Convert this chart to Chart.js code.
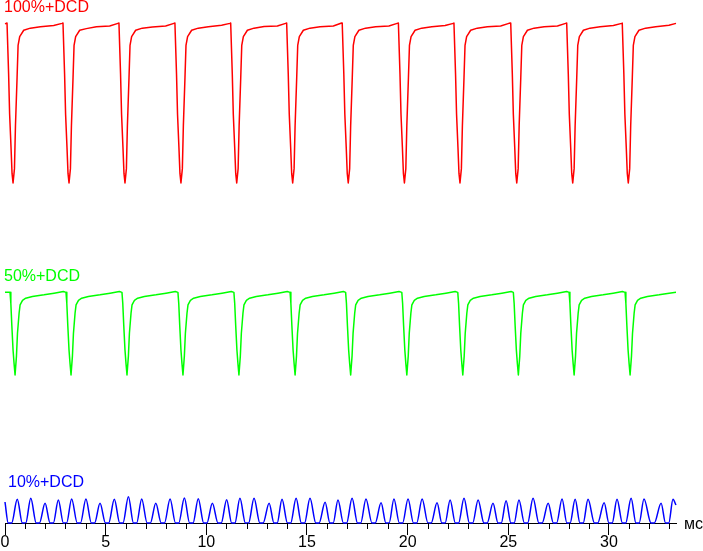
<!DOCTYPE html>
<html>
<head>
<meta charset="utf-8">
<script src="https://cdn.jsdelivr.net/npm/chart.js@4/dist/chart.umd.min.js"></script>
<style>
	body { margin: 0; background: #fff; }
	#chart-box { width: 703px; height: 551px; position: relative; }
</style>
</head>
<body>
<div id="chart-box"><canvas id="wave-chart-canvas"></canvas></div>
<script>
// time in ms, level in % of each trace's own swing
var seriesNames = ["100%+DCD", "50%+DCD", "10%+DCD"];
var seriesColors = ["#ff0000", "#00ff00", "#0000ff"];
var axisUnit = "мс";
var tickMajorStep = 5;
var timeMax = 33.33;

var redTrace = [
	[0,99.5],[0.10,100],[0.18,68],[0.23,43],[0.30,22],[0.35,6],[0.40,0],[0.47,9],[0.52,36],[0.60,66],[0.65,86],[0.73,91.5],[0.93,95.5],[1.26,96.8],[1.76,97.7],[2.42,98.4],[2.83,99.8],
	[2.88,100],[2.96,68],[3.01,43],[3.08,22],[3.13,6],[3.18,0],[3.25,9],[3.30,36],[3.38,66],[3.43,86],[3.51,91.5],[3.71,95.5],[4.04,96.5],[4.54,97.7],[5.20,98.2],[5.61,99.8],
	[5.66,100],[5.74,68],[5.79,43],[5.86,22],[5.91,6],[5.96,0],[6.03,9],[6.08,36],[6.16,66],[6.21,86],[6.29,91.5],[6.49,95.5],[6.82,96.8],[7.32,97.5],[7.98,98.2],[8.39,99.8],
	[8.44,100],[8.52,68],[8.57,43],[8.64,22],[8.69,6],[8.74,0],[8.81,9],[8.86,36],[8.94,66],[8.99,86],[9.07,91.5],[9.27,95.5],[9.60,96.8],[10.10,97.7],[10.76,98.6],[11.17,99.8],
	[11.21,100],[11.29,68],[11.34,43],[11.41,22],[11.46,6],[11.51,0],[11.58,9],[11.63,36],[11.71,66],[11.76,86],[11.84,91.5],[12.04,95.5],[12.37,96.8],[12.87,97.9],[13.53,98.2],[13.94,99.8],
	[13.99,100],[14.07,68],[14.12,43],[14.19,22],[14.24,6],[14.29,0],[14.36,9],[14.41,36],[14.49,66],[14.54,86],[14.62,91.5],[14.82,95.5],[15.15,96.8],[15.65,97.7],[16.31,98.2],[16.72,100],
	[16.75,100],[16.83,68],[16.88,43],[16.95,22],[17.00,6],[17.05,0],[17.12,9],[17.17,36],[17.25,66],[17.30,86],[17.38,91.5],[17.58,95.5],[17.91,96.8],[18.41,97.7],[19.07,98.2],[19.48,99.8],
	[19.54,100],[19.62,68],[19.67,43],[19.74,22],[19.79,6],[19.84,0],[19.91,9],[19.96,36],[20.04,66],[20.09,86],[20.17,91.5],[20.37,95.5],[20.70,96.8],[21.20,97.7],[21.86,98.4],[22.27,99.8],
	[22.30,100],[22.38,68],[22.43,43],[22.50,22],[22.55,6],[22.60,0],[22.67,9],[22.72,36],[22.80,66],[22.85,86],[22.93,91.5],[23.13,95.5],[23.46,96.8],[23.96,97.7],[24.62,98.2],[25.03,99.8],
	[25.12,100],[25.20,68],[25.25,43],[25.32,22],[25.37,6],[25.42,0],[25.49,9],[25.54,36],[25.62,66],[25.67,86],[25.75,91.5],[25.95,95.5],[26.28,96.8],[26.78,97.7],[27.44,98.2],[27.85,99.8],
	[27.90,100],[27.98,68],[28.03,43],[28.10,22],[28.15,6],[28.20,0],[28.27,9],[28.32,36],[28.40,66],[28.45,86],[28.53,91.5],[28.73,95.5],[29.06,96.8],[29.56,97.7],[30.22,98.4],[30.63,99.8],
	[30.66,100],[30.74,68],[30.79,43],[30.86,22],[30.91,6],[30.96,0],[31.03,9],[31.08,36],[31.16,66],[31.21,86],[31.29,91.5],[31.49,95.5],[31.82,96.8],[32.32,97.7],[32.98,98.6],[33.33,99.8]
];

var greenTrace = [
	[0,99],[0.25,99],[0.29,86],[0.34,59],[0.40,30],[0.45,14],[0.50,0],[0.57,23],[0.62,50],[0.70,74],[0.75,84],[0.87,89.5],[1.03,92],[1.36,94],[1.94,96],[2.44,98],[2.90,100],
	[3.03,99],[3.07,86],[3.12,59],[3.18,30],[3.23,14],[3.28,0],[3.35,23],[3.40,50],[3.48,74],[3.53,84],[3.65,89.5],[3.81,92],[4.14,94],[4.72,96],[5.22,98],[5.68,100],
	[5.81,99],[5.85,86],[5.90,59],[5.96,30],[6.01,14],[6.06,0],[6.13,23],[6.18,50],[6.26,74],[6.31,84],[6.43,89.5],[6.59,92],[6.92,94],[7.50,96],[8.00,98],[8.46,100],
	[8.59,99],[8.63,86],[8.68,59],[8.74,30],[8.79,14],[8.84,0],[8.91,23],[8.96,50],[9.04,74],[9.09,84],[9.21,89.5],[9.37,92],[9.70,94],[10.28,96],[10.78,98],[11.24,100],
	[11.37,99],[11.41,86],[11.46,59],[11.52,30],[11.57,14],[11.62,0],[11.69,23],[11.74,50],[11.82,74],[11.87,84],[11.99,89.5],[12.15,92],[12.48,94],[13.06,96],[13.56,98],[14.02,100],
	[14.16,99],[14.20,86],[14.25,59],[14.31,30],[14.36,14],[14.41,0],[14.48,23],[14.53,50],[14.61,74],[14.66,84],[14.78,89.5],[14.94,92],[15.27,94],[15.85,96],[16.35,98],[16.81,100],
	[16.92,99],[16.96,86],[17.01,59],[17.07,30],[17.12,14],[17.17,0],[17.24,23],[17.29,50],[17.37,74],[17.42,84],[17.54,89.5],[17.70,92],[18.03,94],[18.61,96],[19.11,98],[19.57,100],
	[19.71,99],[19.75,86],[19.80,59],[19.86,30],[19.91,14],[19.96,0],[20.03,23],[20.08,50],[20.16,74],[20.21,84],[20.33,89.5],[20.49,92],[20.82,94],[21.40,96],[21.90,98],[22.36,100],
	[22.49,99],[22.53,86],[22.58,59],[22.64,30],[22.69,14],[22.74,0],[22.81,23],[22.86,50],[22.94,74],[22.99,84],[23.11,89.5],[23.27,92],[23.60,94],[24.18,96],[24.68,98],[25.14,100],
	[25.25,99],[25.29,86],[25.34,59],[25.40,30],[25.45,14],[25.50,0],[25.57,23],[25.62,50],[25.70,74],[25.75,84],[25.87,89.5],[26.03,92],[26.36,94],[26.94,96],[27.44,98],[27.90,100],
	[28.02,99],[28.06,86],[28.11,59],[28.17,30],[28.22,14],[28.27,0],[28.34,23],[28.39,50],[28.47,74],[28.52,84],[28.64,89.5],[28.80,92],[29.13,94],[29.71,96],[30.21,98],[30.67,100],
	[30.80,99],[30.84,86],[30.89,59],[30.95,30],[31.00,14],[31.05,0],[31.12,23],[31.17,50],[31.25,74],[31.30,84],[31.42,89.5],[31.58,92],[31.91,94],[32.49,96],[32.99,98],[33.33,99]
];

var blueTrace = [
	[0,84],[0.16,0],[0.33,0],[0.61,95],[0.86,0],[1.03,0],[1.28,99],[1.55,0],[1.71,0],[1.99,79],[2.24,0],[2.40,0],
	[2.65,92],[2.90,0],[3.06,0],[3.31,96],[3.59,0],[3.75,0],[4.02,96],[4.29,0],[4.45,0],[4.72,79],[4.99,0],[5.15,0],
	[5.43,95],[5.70,0],[5.86,0],[6.13,105],[6.38,0],[6.54,0],[6.79,96],[7.06,0],[7.22,0],[7.49,79],[7.76,0],[7.92,0],
	[8.20,96],[8.47,0],[8.63,0],[8.91,100],[9.17,0],[9.34,0],[9.60,97],[9.87,0],[10.03,0],[10.30,79],[10.58,0],[10.74,0],
	[11.01,93],[11.26,0],[11.42,0],[11.67,99],[11.94,0],[12.10,0],[12.37,99],[12.66,0],[12.82,0],[13.12,79],[13.36,0],[13.52,0],
	[13.76,95],[14.03,0],[14.19,0],[14.46,99],[14.72,0],[14.88,0],[15.15,99],[15.44,0],[15.60,0],[15.90,83],[16.14,0],[16.30,0],
	[16.54,92],[16.81,0],[16.97,0],[17.24,99],[17.51,0],[17.67,0],[17.93,96],[18.23,0],[18.39,0],[18.68,81],[18.92,0],[19.08,0],
	[19.32,96],[19.59,0],[19.75,0],[20.02,96],[20.29,0],[20.45,0],[20.72,96],[21.01,0],[21.17,0],[21.46,81],[21.70,0],[21.86,0],
	[22.11,92],[22.37,0],[22.53,0],[22.80,99],[23.07,0],[23.23,0],[23.50,92],[23.79,0],[23.95,0],[24.24,79],[24.49,0],[24.65,0],
	[24.89,89],[25.13,0],[25.29,0],[25.53,92],[25.80,0],[25.96,0],[26.23,99],[26.52,0],[26.68,0],[26.98,79],[27.24,0],[27.40,0],
	[27.67,96],[27.91,0],[28.07,0],[28.32,95],[28.56,0],[28.72,0],[28.96,95],[29.28,0],[29.44,0],[29.76,81],[30.00,0],[30.16,0],
	[30.40,95],[30.67,0],[30.83,0],[31.10,99],[31.34,0],[31.50,0],[31.74,96],[32.09,0],[32.25,0],[32.59,79],[32.81,0],[32.97,0],
	[33.18,95],[33.33,72]
];

function toPoints(trace) {
	var points = [];
	for(var i = 0; i < trace.length; i++)
		points.push({x: trace[i][0], y: trace[i][1]});
	return points;
}

// minor ticks every 1 ms, trace names, unit label
var waveDecorPlugin = {
	id: "waveDecor",
	afterDraw: function(chart) {
		var ctx = chart.ctx;
		var xScale = chart.scales.x;
		var baseY = xScale.top;
		var labelSpots = [[4, 12], [4, 281], [8, 487]];

		ctx.save();
		ctx.strokeStyle = "#000";
		ctx.lineWidth = 1;
		ctx.beginPath();
		for(var t = 1; t <= Math.floor(timeMax); t++) {
			if(t % tickMajorStep === 0)
				continue;
			var px = Math.round(xScale.getPixelForValue(t)) + 0.5;
			ctx.moveTo(px, baseY);
			ctx.lineTo(px, baseY + 6);
		}
		ctx.stroke();

		ctx.font = "16px 'Liberation Sans', Arial, sans-serif";
		ctx.textBaseline = "alphabetic";
		ctx.textAlign = "left";
		for(var s = 0; s < seriesNames.length; s++) {
			ctx.fillStyle = seriesColors[s];
			ctx.fillText(seriesNames[s], labelSpots[s][0], labelSpots[s][1]);
		}

		ctx.fillStyle = "#000";
		ctx.fillText(axisUnit, xScale.right + 8, baseY + 6);
		ctx.restore();
	}
};

window.onload = function() {
	var lineCommon = {
		pointRadius: 0,
		borderWidth: 1.5,
		borderJoinStyle: "round",
		fill: false,
		clip: false
	};

	window.waveChart = new Chart(document.getElementById("wave-chart-canvas"), {
		type: "line",
		data: {
			datasets: [
				Object.assign({label: seriesNames[0], data: toPoints(redTrace), borderColor: seriesColors[0], yAxisID: "yRed", tension: 0}, lineCommon),
				Object.assign({label: seriesNames[1], data: toPoints(greenTrace), borderColor: seriesColors[1], yAxisID: "yGreen", tension: 0}, lineCommon),
				Object.assign({label: seriesNames[2], data: toPoints(blueTrace), borderColor: seriesColors[2], yAxisID: "yBlue", cubicInterpolationMode: "monotone"}, lineCommon)
			]
		},
		options: {
			responsive: true,
			maintainAspectRatio: false,
			animation: false,
			events: [],
			layout: {
				padding: {left: 5, right: 27, top: 0, bottom: 0}
			},
			plugins: {
				legend: {display: false},
				tooltip: {enabled: false}
			},
			scales: {
				x: {
					type: "linear",
					position: "bottom",
					min: 0,
					max: timeMax,
					afterFit: function(scale) { scale.height = 28; },
					grid: {
						drawOnChartArea: false,
						tickLength: 12,
						tickColor: "#000",
						tickWidth: 1
					},
					border: {display: true, color: "#000", width: 1},
					ticks: {
						stepSize: tickMajorStep,
						includeBounds: false,
						autoSkip: false,
						maxRotation: 0,
						padding: 0,
						color: "#000",
						font: {family: "'Liberation Sans', Arial, sans-serif", size: 16, lineHeight: 1}
					}
				},
				yRed: {display: false, min: -212.5, max: 114.4},
				yGreen: {display: false, min: -177.2, max: 449.1},
				yBlue: {display: false, min: 0, max: 2092}
			}
		},
		plugins: [waveDecorPlugin]
	});
};
</script>
</body>
</html>
